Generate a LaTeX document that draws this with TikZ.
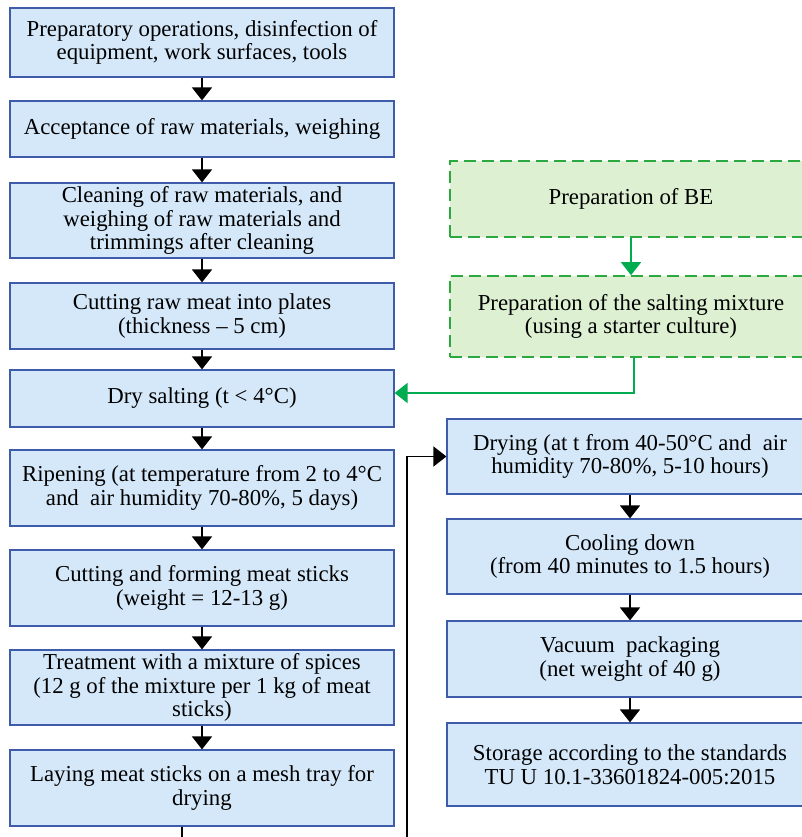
\documentclass[tikz,border=0pt]{standalone}
\usepackage{fontspec}
\setmainfont{Liberation Serif}
\usetikzlibrary{arrows.meta}
\definecolor{boxblue}{RGB}{213,232,249}
\definecolor{edgeblue}{RGB}{62,92,170}
\definecolor{boxgreen}{RGB}{221,240,210}
\definecolor{edgegreen}{RGB}{44,168,64}
\definecolor{arrowgreen}{RGB}{0,172,80}
\tikzset{
  stage/.style={draw=edgeblue, fill=boxblue, line width=1.2pt, inner sep=0pt, align=center,
    font=\fontsize{22.8}{23.5}\selectfont},
  leftstage/.style={stage, minimum width=384pt},
  rightstage/.style={stage, minimum width=366pt},
  prepstage/.style={stage, draw=edgegreen, fill=boxgreen, dash pattern=on 12pt off 6pt,
    line width=1.6pt, minimum width=362pt},
  flow/.style={line width=1.6pt, -{Triangle[width=20pt,length=13pt]}},
  greenflow/.style={line width=1.6pt, draw=arrowgreen, -{Triangle[width=20pt,length=13pt]}, arrowgreen}
}
\begin{document}
\begin{tikzpicture}[x=1pt,y=-1pt]
  \useasboundingbox (0,0) rectangle (802,837);
  \clip (0,0) rectangle (802,837); % the page cuts the picture

  % Main line
  \node[leftstage, minimum height=69pt] (prep) at (202,42.5) {Preparatory operations, disinfection of\\equipment, work surfaces, tools};
  \node[leftstage, minimum height=56pt] (accept) at (202,129) {Acceptance of raw materials, weighing};
  \node[leftstage, minimum height=75pt] (clean) at (202,220.5) {Cleaning of raw materials, and\\weighing of raw materials and\\trimmings after cleaning};
  \node[leftstage, minimum height=66pt] (plates) at (202,316) {Cutting raw meat into plates\\(thickness -- 5 cm)};
  \node[leftstage, minimum height=57pt] (salting) at (202,398.5) {Dry salting (t < 4°C)};
  \node[leftstage, minimum height=76pt] (ripening) at (202,488) {Ripening (at temperature from 2 to 4°C\\and\ \ air humidity 70-80\%, 5 days)};
  \node[leftstage, minimum height=76pt] (forming) at (202,588) {Cutting and forming meat sticks\\(weight = 12-13 g)};
  \node[leftstage, minimum height=75pt] (spices) at (202,687.5) {Treatment with a mixture of spices\\(12 g of the mixture per 1 kg of meat\\sticks)};
  \node[leftstage, minimum height=76pt] (laying) at (202,788) {Laying meat sticks on a mesh tray for\\drying};

  % Salting mixture
  \node[prepstage, minimum height=76pt] (bePrep) at (631,199) {Preparation of BE};
  \node[prepstage, minimum height=81pt] (mixPrep) at (631,316.5) {Preparation of the salting mixture\\(using a starter culture)};

  % Drying and packing
  \node[rightstage, minimum height=75pt] (drying) at (630,456.5) {Drying (at t from 40-50°C and\ \ air\\humidity 70-80\%, 5-10 hours)};
  \node[rightstage, minimum height=75pt] (cooling) at (630,556.5) {Cooling down\\(from 40 minutes to 1.5 hours)};
  \node[rightstage, minimum height=76pt] (packing) at (630,659) {Vacuum\ \ packaging\\(net weight of 40 g)};
  \node[rightstage, minimum height=83pt] (storage) at (630,764.5) {Storage according to the standards\\TU U 10.1-33601824-005:2015};

  % Arrows
  \draw[flow] (prep) -- (accept);
  \draw[flow] (accept) -- (clean);
  \draw[flow] (clean) -- (plates);
  \draw[flow] (plates) -- (salting);
  \draw[flow] (salting) -- (ripening);
  \draw[flow] (ripening) -- (forming);
  \draw[flow] (forming) -- (spices);
  \draw[flow] (spices) -- (laying);
  \draw[flow] (drying) -- (cooling);
  \draw[flow] (cooling) -- (packing);
  \draw[flow] (packing) -- (storage);
  \draw[greenflow] (bePrep) -- (mixPrep);
  \draw[greenflow] ([xshift=3pt]mixPrep.south) |- ([yshift=5.5pt]salting.east);

  % Back to drying (runs under the page edge)
  \coordinate (turn) at (407,860);
  \draw[flow] ([xshift=-20pt]laying.south) |- (turn) |- (drying.west);
\end{tikzpicture}
\end{document}
